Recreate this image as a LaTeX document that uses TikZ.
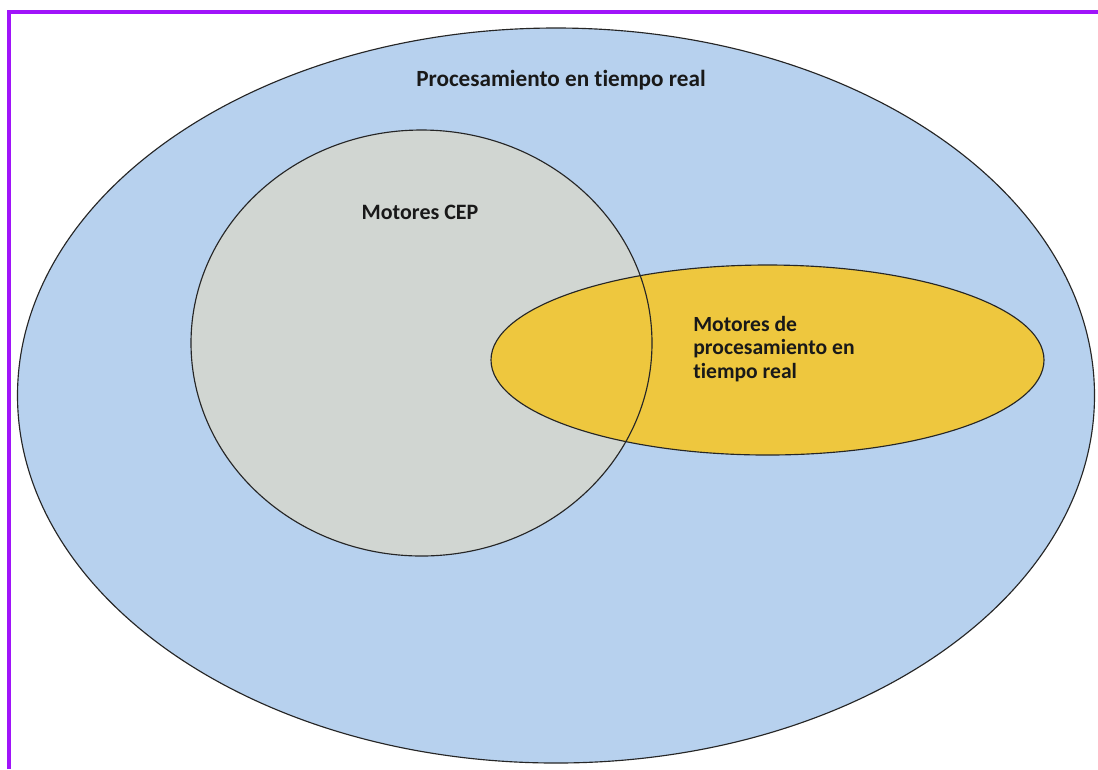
\documentclass[tikz,border=0pt]{standalone}
\usepackage{fontspec}
\setmainfont[Ligatures=NoCommon]{Carlito}
\definecolor{framepurple}{RGB}{160,20,250}
\definecolor{outerblue}{RGB}{183,209,238}
\definecolor{cepgray}{RGB}{209,214,210}
\definecolor{rtyellow}{RGB}{238,199,62}
\tikzset{
  setline/.style={draw=black!85, line width=0.65pt},
  label/.style={font=\bfseries\fontsize{13.2}{16}\selectfont, text=black!90}
}
\begin{document}
\begin{tikzpicture}[x=0.02cm,y=-0.02cm]
  \useasboundingbox (0,0) rectangle (1098,769);
  \fill[white] (0,0) rectangle (1098,769);
  % frame on the top and left edges
  \draw[framepurple, line width=2.2pt] (9,769) -- (9,12) -- (1098,12);
  % real-time processing
  \path[setline, fill=outerblue] (556,395.5) ellipse [x radius=538.5, y radius=367.5];
  % CEP engines
  \path[fill=cepgray] (421.5,343) ellipse [x radius=230.5, y radius=213];
  % real-time processing engines
  \path[setline, fill=rtyellow] (767.5,360) ellipse [x radius=276.5, y radius=95];
  \path[setline] (421.5,343) ellipse [x radius=230.5, y radius=213];
  \node[label] (outer) at (561,80) {Procesamiento en tiempo real};
  \node[label, font=\bfseries\fontsize{12.5}{15}\selectfont] (cep) at (420,212) {Motores CEP};
  \node[label, font=\bfseries\fontsize{12.3}{13.3}\selectfont, align=left, anchor=north west, inner sep=0pt] (rt) at (693,316) {Motores de\\procesamiento en\\tiempo real};
\end{tikzpicture}
\end{document}
